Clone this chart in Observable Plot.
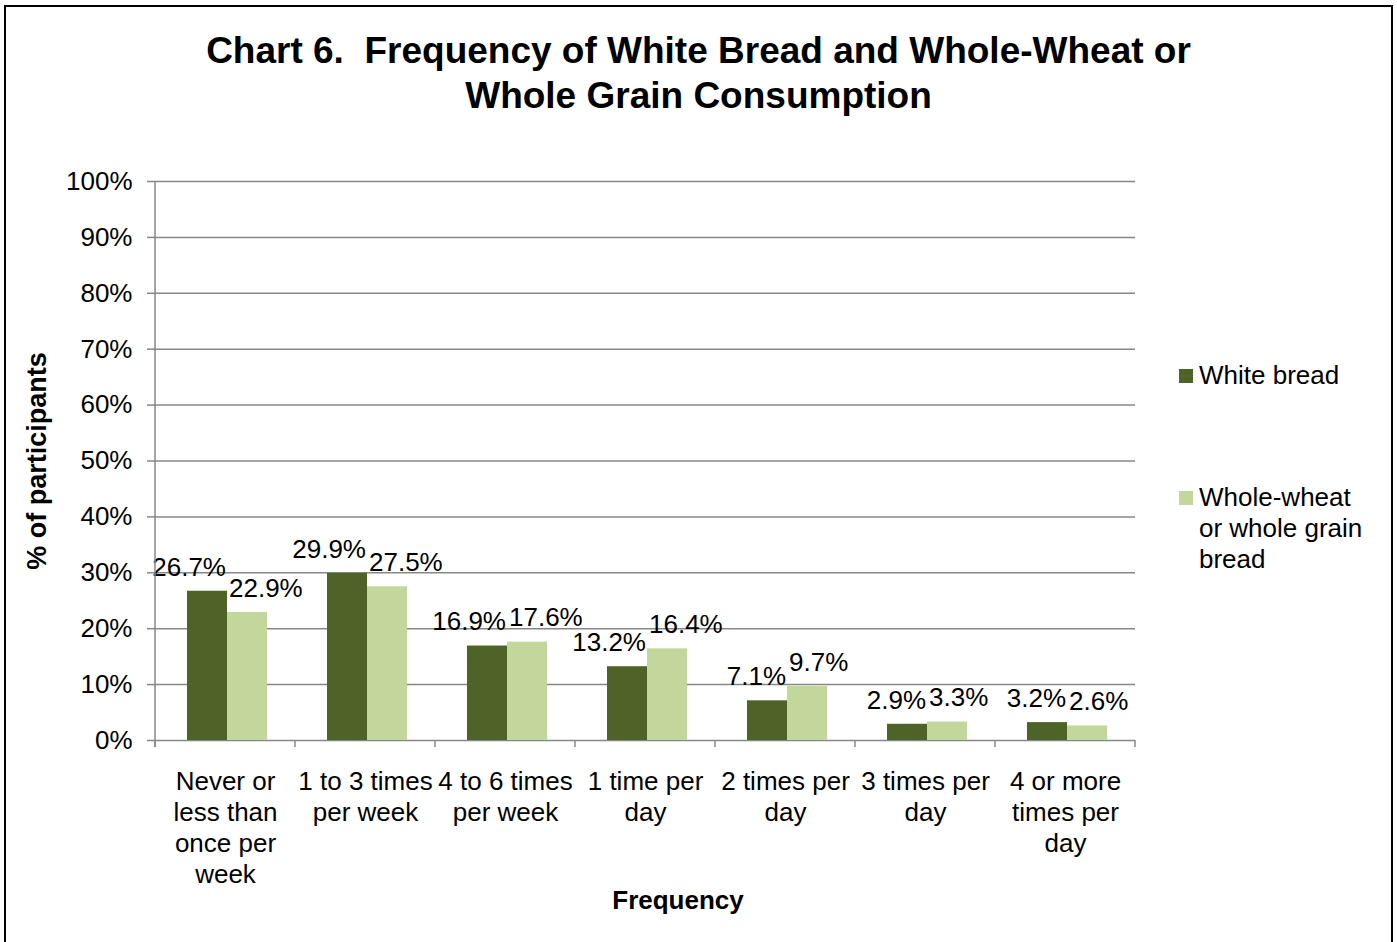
<!DOCTYPE html>
<html>
<head>
<meta charset="utf-8">
<script src="https://cdn.jsdelivr.net/npm/d3@7"></script>
<script src="https://cdn.jsdelivr.net/npm/@observablehq/plot@0.6"></script>
<style>
  body { margin: 0; background: #fff; font-family: Arial, "Liberation Sans", sans-serif; color: #000; }
  #wrap { position: relative; width: 1397px; height: 942px; overflow: hidden; background: #fff; }
  #chart { position: absolute; left: 0; top: 0; }
  #border { position: absolute; left: 4px; top: 5px; width: 1389px; height: 960px; border: 2px solid #000; box-sizing: border-box; pointer-events: none; }
  #title { position: absolute; left: 0; top: 28px; width: 1397px; text-align: center; font-weight: bold; font-size: 37px; line-height: 45px; white-space: pre; }
  #ytitle { position: absolute; left: 37px; top: 461px; transform: translate(-50%, -50%) rotate(-90deg); font-weight: bold; font-size: 27px; white-space: nowrap; }
  #xtitle { position: absolute; left: 678px; top: 900px; transform: translate(-50%, -50%); font-weight: bold; font-size: 26px; white-space: nowrap; }
  .legend-item { position: absolute; left: 1179px; font-size: 26px; line-height: 31px; }
  .legend-item .swatch { position: absolute; left: 0; width: 14px; height: 14px; }
  .legend-item .label { position: absolute; left: 20px; white-space: nowrap; }
</style>
</head>
<body>
<div id="wrap">
  <div id="chart"></div>
  <div id="title"></div>
  <div id="ytitle"></div>
  <div id="xtitle"></div>
  <div id="legend"></div>
  <div id="border"></div>
</div>
<script>
// Survey response categories and their axis labels (line breaks as printed)
const categories = ["never", "1-3wk", "4-6wk", "1day", "2day", "3day", "4day"];
const categoryLabels = [
  "Never or\nless than\nonce per\nweek",
  "1 to 3 times\nper week",
  "4 to 6 times\nper week",
  "1 time per\nday",
  "2 times per\nday",
  "3 times per\nday",
  "4 or more\ntimes per\nday"
];

// Series names and values (% of participants)
const seriesNames = ["White bread", "Whole-wheat or whole grain bread"];
const legendLabels = ["White bread", "Whole-wheat\nor whole grain\nbread"];
const whiteBread = [26.7, 29.9, 16.9, 13.2, 7.1, 2.9, 3.2];
const wholeGrain = [22.9, 27.5, 17.6, 16.4, 9.7, 3.3, 2.6];
const seriesColors = ["#4f6228", "#c3d69b"];

// Y axis ticks
const yTicks = [0, 10, 20, 30, 40, 50, 60, 70, 80, 90, 100];

const titleText = "Chart 6.  Frequency of White Bread and Whole-Wheat or\nWhole Grain Consumption";
const yTitle = "% of participants";
const xTitle = "Frequency";

const rows = categories.flatMap((c, i) => [
  {cat: c, series: seriesNames[0], value: whiteBread[i]},
  {cat: c, series: seriesNames[1], value: wholeGrain[i]}
]);

const gridColor = "#878787";

const chart = Plot.plot({
  width: 1397,
  height: 942,
  marginLeft: 155,
  marginRight: 262,
  marginTop: 181,
  marginBottom: 202,
  style: {fontFamily: "Arial, 'Liberation Sans', sans-serif", fontSize: "26px", color: "#000", background: "transparent", overflow: "visible"},
  fx: {domain: categories, padding: 0, axis: null},
  x: {domain: seriesNames, paddingInner: 0, paddingOuter: 0.75, align: 0.53, axis: null},
  y: {domain: [0, 100], axis: null},
  color: {domain: seriesNames, range: seriesColors},
  marks: [
    Plot.ruleY(yTicks, {stroke: gridColor, strokeWidth: 1.5}),
    Plot.barY(rows, {fx: "cat", x: "series", y: "value", fill: "series"}),
    Plot.text(rows, {fx: "cat", x: "series", y: "value", text: d => d.value.toFixed(1) + "%", dy: -24, fill: "#000", fontSize: 26, className: "value-label"}),
    Plot.text(categories, {fx: d => d, text: (d, i) => categoryLabels[i], frameAnchor: "bottom", lineAnchor: "top", dy: 28, lineHeight: 1.19, fill: "#000", fontSize: 26}),
    Plot.axisY({ticks: yTicks, tickFormat: d => d + "%", tickSize: 8, tickPadding: 15, stroke: gridColor, strokeWidth: 1.5, fill: "#000", label: null, fontSize: 26})
  ]
});

// Left axis line and category-boundary tick marks below the baseline
(function drawAxisLines() {
  const fx = chart.scale("fx");
  const y = chart.scale("y");
  const svg = d3.select(chart);
  const g = svg.append("g").attr("stroke", gridColor).attr("stroke-width", 1.5).attr("fill", "none");
  const starts = categories.map(c => fx.apply(c));
  const edges = starts.concat([starts[starts.length - 1] + fx.bandwidth]);
  const y0 = y.apply(0), y100 = y.apply(100);
  g.append("line").attr("x1", edges[0]).attr("x2", edges[0]).attr("y1", y100).attr("y2", y0 + 7);
  edges.forEach(x => g.append("line").attr("x1", x).attr("x2", x).attr("y1", y0).attr("y2", y0 + 7));
})();

document.getElementById("chart").appendChild(chart);

// Keep the two value labels of a group from colliding: spread them apart sideways
(function spreadValueLabels() {
  const gap = 3;
  d3.select(chart).selectAll("g.value-label").each(function () {
    const texts = Array.from(this.querySelectorAll("text"));
    if (texts.length < 2) return;
    const [a, b] = texts;
    const ra = a.getBoundingClientRect(), rb = b.getBoundingClientRect();
    const vOverlap = ra.bottom > rb.top && rb.bottom > ra.top;
    const hOverlap = ra.right + gap - rb.left;
    if (vOverlap && hOverlap > 0) {
      a.setAttribute("dx", -hOverlap / 2);
      b.setAttribute("dx", hOverlap / 2);
    }
  });
})();

document.getElementById("title").textContent = titleText;
document.getElementById("ytitle").textContent = yTitle;
document.getElementById("xtitle").textContent = xTitle;

// Legend
const legendTops = [360, 482];
const legend = document.getElementById("legend");
seriesNames.forEach((name, i) => {
  const item = document.createElement("div");
  item.className = "legend-item";
  item.style.top = legendTops[i] + "px";
  const sw = document.createElement("div");
  sw.className = "swatch";
  sw.style.background = seriesColors[i];
  sw.style.top = "9px";
  const lab = document.createElement("div");
  lab.className = "label";
  lab.innerHTML = legendLabels[i].split("\n").join("<br>");
  item.appendChild(sw);
  item.appendChild(lab);
  legend.appendChild(item);
});
</script>
</body>
</html>
